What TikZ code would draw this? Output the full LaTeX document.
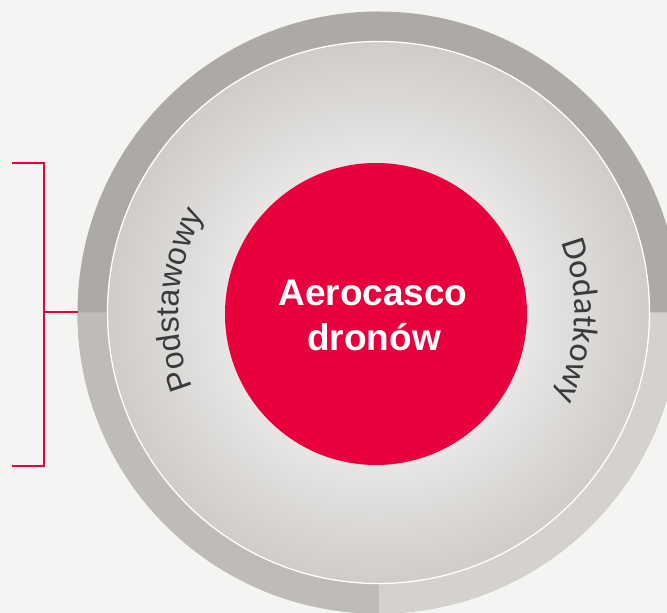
\documentclass[tikz,border=0pt]{standalone}
\usepackage{fontspec}
\newfontfamily\carl{Carlito}
\newfontfamily\lib{Liberation Sans}
\usetikzlibrary{decorations.text}
\definecolor{bgcol}{HTML}{F4F4F3}
\definecolor{ringdark}{HTML}{ADA9A5}
\definecolor{ringmid}{HTML}{BFBBB7}
\definecolor{ringlight}{HTML}{D4D1CE}
\definecolor{redc}{HTML}{E8003D}
\definecolor{tgray}{HTML}{3A3A3A}
\pgfdeclareradialshading{innerglow}{\pgfpointorigin}{%
  rgb(0bp)=(0.955,0.955,0.950);
  rgb(12bp)=(0.925,0.922,0.918);
  rgb(25bp)=(0.812,0.800,0.788);
  rgb(50bp)=(0.812,0.800,0.788)}
\tikzset{
  bracketline/.style={draw=redc, line width=2pt},
  arclabel/.style={decorate, decoration={text along path, text align=center, text color=tgray}},
  centertext/.style={text=white, font=\lib\bfseries\fontsize{37pt}{44pt}\selectfont, anchor=base, inner sep=0pt}
}
\begin{document}
\begin{tikzpicture}[x=1pt,y=1pt]
\useasboundingbox (0,0) rectangle (667,613);
\fill[bgcol] (0,0) rectangle (667,613);
\clip (0,0) rectangle (667,613);
\coordinate (C) at (378.5,300.5);
% outer ring
\fill[ringdark] (C) circle[radius=301];
\fill[ringmid] (C) -- ++(180:301) arc[start angle=180,end angle=270,radius=301] -- cycle;
\fill[ringlight] (C) -- ++(270:301) arc[start angle=270,end angle=360,radius=301] -- cycle;
% inner disc
\shade[shading=innerglow] (C) circle[radius=271];
\draw[white, line width=1.3pt] (C) circle[radius=271];
% red core
\node[circle, fill=redc, minimum size=302pt, inner sep=0pt] (core) at (376,299) {};
\node[centertext] (t1) at (373,307) {Aerocasco};
\node[centertext] (t2) at (374,262) {dronów};
% curved labels
\path[arclabel, decoration={text={|\lib\fontsize{32pt}{38pt}\selectfont|Podstawowy}}]
  (C) ++(230:200) arc[start angle=230,end angle=122.6,radius=200];
\path[arclabel, decoration={text={|\carl\fontsize{34.5pt}{40pt}\selectfont|Dodatkowy}}]
  (C) ++(51:196) arc[start angle=51,end angle=-56,radius=196];
% bracket
\coordinate (bt) at (12,450);
\coordinate (bb) at (12,147);
\coordinate (bm) at (44,300.5);
\coordinate (re) at (77.5,300.5);
\draw[bracketline] (bt) -| (44,147) -- (bb);
\draw[bracketline] (bm) -- (re);
\end{tikzpicture}
\end{document}
